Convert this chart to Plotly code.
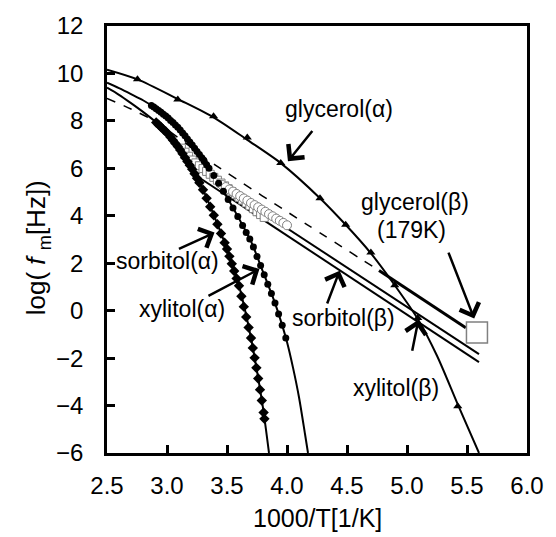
import plotly.graph_objects as go

# ---------------- data ----------------
# glycerol alpha: measured points (triangles) and fitted curve
gly_a_x = [2.754, 3.09, 3.388, 3.669, 3.948, 4.275, 4.489, 4.699, 4.898, 5.09, 5.423]
gly_a_y = [9.76, 8.90, 8.20, 7.30, 6.23, 4.74, 3.62, 2.45, 1.07, -0.31, -4.03]
gly_a_fit_x = [2.5, 2.754, 3.09, 3.388, 3.669, 3.948, 4.275, 4.489, 4.699, 4.898, 5.09, 5.25, 5.423, 5.60]
gly_a_fit_y = [10.16, 9.75, 8.92, 8.15, 7.20, 6.22, 4.74, 3.62, 2.42, 1.07, -0.35, -1.9, -3.95, -6.0]

# glycerol beta: line, dashed extrapolation, 179 K point
gly_b_x = [4.767, 5.49]
gly_b_y = [1.69, -0.72]
gly_b_ext_x = [2.5, 2.7, 2.91, 3.40, 4.17, 4.78]
gly_b_ext_y = [8.95, 8.50, 7.95, 6.15, 3.62, 1.65]
gly_179_x = [5.583]
gly_179_y = [-0.92]

# xylitol alpha: measured points (filled circles) and fitted curve
xyl_a_x = [2.87, 2.89, 2.91, 2.93, 2.95, 2.97, 2.99, 3.01, 3.03, 3.05, 3.07, 3.09, 3.11, 3.13,
           3.15, 3.17, 3.19, 3.21, 3.23, 3.25, 3.27, 3.29, 3.31, 3.33, 3.35, 3.39, 3.43, 3.47,
           3.51, 3.55, 3.59, 3.63, 3.66, 3.69, 3.72, 3.75, 3.78, 3.81, 3.84, 3.87, 3.90, 3.93,
           3.96, 3.99]
xyl_a_y = [8.65, 8.585, 8.51, 8.44, 8.36, 8.28, 8.21, 8.12, 8.02, 7.93, 7.83, 7.73, 7.62, 7.49,
           7.37, 7.24, 7.11, 6.98, 6.85, 6.71, 6.58, 6.45, 6.30, 6.15, 6.00, 5.70, 5.37, 5.03,
           4.69, 4.33, 3.97, 3.59, 3.30, 3.02, 2.68, 2.28, 1.90, 1.51, 1.11, 0.72, 0.32, -0.14,
           -0.62, -1.15]
xyl_a_fit_x = [2.5, 2.6, 2.7, 2.8, 2.9, 3.0, 3.1, 3.2, 3.3, 3.4, 3.5, 3.6, 3.7, 3.8, 3.9, 3.95,
               4.0, 4.05, 4.1, 4.15, 4.175]
xyl_a_fit_y = [9.61, 9.38, 9.13, 8.87, 8.55, 8.17, 7.68, 7.05, 6.38, 5.62, 4.78, 3.88, 2.92,
               1.64, 0.32, -0.45, -1.32, -2.4, -3.65, -5.2, -6.0]

# sorbitol alpha: measured points (filled diamonds) and fitted curve
sor_a_x = [2.91, 2.93, 2.95, 2.97, 2.99, 3.01, 3.03, 3.05, 3.07, 3.09, 3.11, 3.13, 3.15, 3.17,
           3.19, 3.21, 3.23, 3.25, 3.27, 3.30, 3.33, 3.36, 3.39, 3.42, 3.45, 3.48, 3.50, 3.52,
           3.54, 3.56, 3.58, 3.60, 3.62, 3.64, 3.66, 3.68, 3.70, 3.715, 3.73, 3.745, 3.76,
           3.775, 3.79, 3.805, 3.812]
sor_a_y = [7.93, 7.84, 7.74, 7.64, 7.55, 7.44, 7.31, 7.18, 7.05, 6.92, 6.77, 6.61, 6.45, 6.29,
           6.13, 5.96, 5.77, 5.58, 5.39, 5.10, 4.74, 4.38, 4.02, 3.64, 3.25, 2.86, 2.60, 2.29,
           1.98, 1.67, 1.36, 1.05, 0.61, 0.17, -0.27, -0.71, -1.15, -1.57, -1.99, -2.41, -2.86,
           -3.33, -3.79, -4.29, -4.56]
sor_a_fit_x = [2.5, 2.6, 2.7, 2.8, 2.9, 3.0, 3.1, 3.2, 3.3, 3.4, 3.5, 3.6, 3.7, 3.75, 3.8, 3.85]
sor_a_fit_y = [9.40, 9.10, 8.75, 8.38, 7.98, 7.50, 6.85, 6.05, 5.10, 3.90, 2.60, 1.05, -1.15,
               -2.55, -4.10, -6.0]

# sorbitol beta: data (open squares) and line
sor_b_x = [3.12, 3.15, 3.18, 3.21, 3.24, 3.27, 3.30, 3.33, 3.36, 3.39, 3.42, 3.45, 3.48, 3.51,
           3.54, 3.57, 3.60, 3.63, 3.66, 3.69, 3.72, 3.75, 3.78, 3.81]
sor_b_y = [6.85, 6.68, 6.51, 6.35, 6.23, 6.11, 5.99, 5.87, 5.75, 5.62, 5.50, 5.38, 5.26, 5.14,
           5.02, 4.90, 4.78, 4.66, 4.54, 4.42, 4.30, 4.17, 4.05, 3.93]
sor_b_line_x = [3.22, 5.60]
sor_b_line_y = [5.77, -2.17]

# xylitol beta: data (open circles) and line
xyl_b_x = [3.46, 3.49, 3.52, 3.55, 3.58, 3.61, 3.64, 3.67, 3.70, 3.73, 3.76, 3.79, 3.82, 3.85,
           3.88, 3.91, 3.94, 3.97, 4.00]
xyl_b_y = [5.30, 5.21, 5.11, 5.02, 4.92, 4.83, 4.73, 4.64, 4.54, 4.45, 4.36, 4.26, 4.17, 4.07,
           3.98, 3.88, 3.79, 3.70, 3.60]
xyl_b_line_x = [3.45, 5.60]
xyl_b_line_y = [5.30, -1.83]

# axis ticks
x_ticks = [2.5, 3.0, 3.5, 4.0, 4.5, 5.0, 5.5, 6.0]
x_ticklabels = ["2.5", "3.0", "3.5", "4.0", "4.5", "5.0", "5.5", "6.0"]
y_ticks = [-6, -4, -2, 0, 2, 4, 6, 8, 10, 12]

# labels: (text, x, y)
labels = [
    ("glycerol(α)", 4.437, 8.285),
    ("glycerol(β)", 5.068, 4.36),
    ("(179K)", 5.035, 3.20),
    ("sorbitol(α)", 3.002, 1.88),
    ("xylitol(α)", 3.125, -0.136),
    ("sorbitol(β)", 4.470, -0.517),
    ("xylitol(β)", 4.912, -3.49),
]
# arrows: (tail x, tail y, tip x, tip y)
arrows = [
    (4.221, 7.64, 4.008, 6.30),
    (5.341, 2.51, 5.560, -0.335),
    (3.087, 2.58, 3.396, 3.29),
    (3.333, 0.587, 3.770, 1.756),
    (4.330, 0.24, 4.439, 1.686),
    (5.041, -1.756, 5.095, -0.38),
]

# ---------------- figure ----------------
FONT = "Liberation Sans, Arial, Helvetica, sans-serif"
fig = go.Figure()

def line(x, y, width=2, dash="solid", shape="spline"):
    fig.add_trace(go.Scatter(x=x, y=y, mode="lines", line=dict(color="black", width=width, dash=dash, shape=shape, smoothing=0.8),
                             showlegend=False, hoverinfo="skip"))

def pts(x, y, symbol, size, fill="black", edge="black", ew=0):
    fig.add_trace(go.Scatter(x=x, y=y, mode="markers",
                             marker=dict(symbol=symbol, size=size, color=fill, line=dict(color=edge, width=ew)),
                             showlegend=False, hoverinfo="skip"))

line(gly_b_ext_x, gly_b_ext_y, width=1.5, dash="dash")
line(gly_a_fit_x, gly_a_fit_y)
line(xyl_a_fit_x, xyl_a_fit_y)
line(sor_a_fit_x, sor_a_fit_y)
line(sor_b_line_x, sor_b_line_y, shape="linear")
line(xyl_b_line_x, xyl_b_line_y, shape="linear")
line(gly_b_x, gly_b_y, width=3, shape="linear")

pts(sor_b_x, sor_b_y, "square", 8, fill="white", edge="#808080", ew=1)
pts(xyl_b_x, xyl_b_y, "circle", 9, fill="white", edge="#808080", ew=1)
pts(gly_a_x, gly_a_y, "triangle-up", 8)
pts(xyl_a_x, xyl_a_y, "circle", 7)
pts(sor_a_x, sor_a_y, "diamond", 8)
pts(gly_179_x, gly_179_y, "square", 21, fill="white", edge="#808080", ew=1.5)

for t, x, y in labels:
    fig.add_annotation(x=x, y=y, text=t, showarrow=False, xanchor="center", yanchor="middle", yshift=5,
                       font=dict(family=FONT, size=23, color="black"))
for tx, ty, hx, hy in arrows:
    fig.add_annotation(x=hx, y=hy, ax=tx, ay=ty, axref="x", ayref="y", xref="x", yref="y",
                       text="", showarrow=True, arrowhead=4, arrowsize=1.6, arrowwidth=2.5,
                       arrowcolor="black", standoff=0, startstandoff=0)

# axis titles
fig.add_annotation(xref="paper", yref="paper", x=0.5, y=-0.152, text="1000/T[1/K]", showarrow=False,
                   xanchor="center", yanchor="middle", borderpad=0,
                   font=dict(family=FONT, size=25, color="black"))
fig.add_annotation(xref="paper", yref="paper", x=-0.166, y=0.48, text="log( <i>f</i> <sub>m</sub>[Hz])",
                   showarrow=False, textangle=-90, xanchor="center", yanchor="middle",
                   font=dict(family=FONT, size=26, color="black"))

axis_common = dict(showgrid=False, zeroline=False, showline=True, linecolor="black", linewidth=2.5,
                   mirror=True, ticks="inside", ticklen=8, tickwidth=2.5, tickcolor="black",
                   tickfont=dict(family=FONT, size=24, color="black"))
fig.update_xaxes(range=[2.5, 6.0], tickvals=x_ticks, ticktext=x_ticklabels, ticklabelstandoff=9, **axis_common)
fig.update_yaxes(range=[-6, 12], tickvals=y_ticks, ticklabelstandoff=16, **axis_common)

fig.update_layout(width=556, height=537, margin=dict(l=107, r=22, t=16, b=84),
                  paper_bgcolor="white", plot_bgcolor="white", showlegend=False,
                  font=dict(family=FONT, color="black"))

fig.write_html("out.html")
